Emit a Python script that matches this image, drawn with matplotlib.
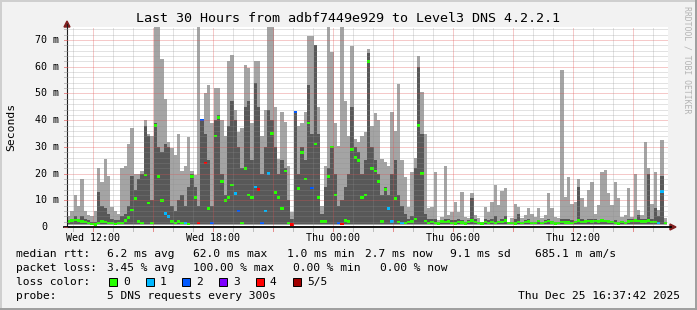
import matplotlib
matplotlib.use("Agg")
import matplotlib.pyplot as plt
import matplotlib.transforms as mtransforms
from matplotlib.patches import Rectangle, Polygon
from matplotlib.lines import Line2D
import numpy as np

# ---------------- data (milliseconds, 10-minute bins) ----------------
start_hour = 10.685          # Wed 10:41 (hours since Wed 00:00)
bin_hours = 1.0 / 6.0        # 10 minutes per bin
smoke_floor = 0.9            # fastest ping, ms

ping_top = [4, 6, 12, 8, 18, 6, 4.5, 4, 6, 22, 17, 25.5, 19, 7.5, 6, 5, 22, 23, 31, 37, 20, 20, 21, 40, 35, 34, 75, 75, 63, 48,
            32, 29.5, 27, 35, 21, 23, 33.8, 21, 19.5, 75, 40, 50, 53, 39, 52, 52, 40, 34, 62, 64.5, 44, 35.5, 37, 60.7, 59.5, 39, 62, 62, 34, 44,
            75, 75, 45, 25.5, 43, 39.5, 23, 5.7, 43, 38, 39, 43, 71.5, 71.5, 68, 45, 8, 23, 75, 65.7, 39, 30.5, 75, 47, 34, 67.6, 33, 32, 34, 35.5,
            66.5, 38, 42.6, 40, 25.5, 24.5, 23, 43, 36, 53.5, 25, 18.8, 7.6, 20.6, 26, 64, 50.7, 35, 7, 7.6, 20.7, 2.6, 3.9, 23, 4.5, 5.7, 9.4, 5.7, 13, 3.9,
            3.3, 12.6, 4.5, 3.3, 2, 7.6, 5.7, 9.4, 15.7, 8.2, 13.5, 14.6, 2, 3.5, 8.8, 7.6, 3.3, 4.5, 7.2, 5, 3.9, 7, 3.3, 4.5, 12.6, 7, 3.9, 3.3, 58.9, 11.4,
            18.8, 8.8, 9.4, 18, 10.7, 7.6, 13.8, 17, 5, 8.2, 20.6, 21.2, 12.6, 8.2, 17, 10.7, 3.9, 4.5, 14.5, 3.9, 20, 6.4, 4.5, 32, 22, 8.8, 20.6, 6.4, 32.4, 3.3]

ping_mid = [2.5, 3, 4, 3, 4, 3, 2.5, 2, 2, 13, 8, 7, 5, 3, 2.5, 2.5, 4, 5, 8, 19, 14, 18, 20, 38, 34, 10, 39, 30, 28, 31,
            30, 8, 6, 10, 12, 8, 15, 20, 15, 8, 40, 35, 25, 8, 40, 42, 20, 12, 38, 47, 40, 30, 22, 45, 47, 25, 54, 45, 20, 30,
            44, 40, 30, 20, 25, 22, 10, 3, 43, 20, 30, 25, 53, 35, 68, 35, 5, 15, 22, 30, 20, 8, 10, 15, 20, 45, 30, 28, 20, 25,
            65, 30, 25, 20, 12, 15, 12, 20, 25, 12, 8, 5, 3, 4, 22, 60, 35, 5, 3, 3, 3, 2, 2.5, 3, 3, 2.5, 2.5, 3, 2.5, 2,
            2.5, 10.7, 3, 2, 1.8, 3, 2.5, 3, 4, 2, 3, 4, 1.8, 2, 3, 5, 2, 2.5, 3, 2, 2, 2.5, 2, 2.5, 3, 2, 2, 2, 3, 3,
            3, 2.5, 2, 15, 3, 2.5, 3, 3, 3, 2.5, 3, 2.5, 2, 2, 2.5, 2, 2, 2, 3, 3, 3, 4.5, 3, 3, 20, 3, 7, 4, 19, 2]

median = [2.0, 2.5, 2.6, 2.5, 2.0, 1.8, 1.5, 1.2, 1.0, 1.5, 2.0, 1.8, 1.5, 1.5, 1.2, 1.5, 1.5, 2.5, 3.5, 6.3, 10.7, 2, 1.5, 19.5, 9, 1.5, 38, 19, 10, 5,
          4, 2, 1.5, 2, 1.5, 1.5, 1.2, 19, 11, 1.5, 40, 24, 7, 1.5, 34, 41, 17, 10, 11, 15.7, 12.6, 6, 1.5, 22, 12, 11, 15, 14, 1.5, 6,
          20, 35, 13, 11, 7, 21, 1.5, 1.0, 43, 14.5, 28, 18, 39, 14.6, 31, 11, 2, 2, 19, 30, 12, 1.5, 1.2, 2.5, 2, 29, 26, 25, 11, 12,
          62, 22, 21, 17, 2, 14, 7, 2, 10.6, 1.8, 1.5, 1.5, 1.8, 2, 3, 38, 20, 2.2, 1.5, 1.8, 1.5, 1.3, 2, 1.8, 2, 1.5, 1.4, 1.8, 1.6, 1.4,
          1.8, 2.5, 1.8, 1.5, 1.3, 1.8, 1.5, 1.8, 1.5, 1.8, 1.8, 2.5, 1.5, 1.5, 1.3, 1.8, 1.5, 1.8, 2, 1.5, 1.5, 2.3, 1.5, 1.8, 2.2, 1.6, 1.4, 1.5, 1.8, 1.6,
          1.6, 1.5, 1.8, 2.5, 1.8, 2, 2.2, 2, 2.2, 2, 2.5, 2.3, 2, 1.8, 1.5, 1.4, 1.8, 1.5, 2, 2.2, 2.5, 2.2, 2, 2, 2.5, 1.8, 1.8, 1.5, 13.2, 1.5]

# bins with packet loss (index -> lost pings out of 5)
loss_bins = [29, 30, 35, 39, 40, 41, 43, 50, 51, 56, 57, 58, 59, 60, 67, 68, 73, 81, 82, 96, 97, 100, 177, 178]
loss_counts = [1, 1, 1, 4, 2, 4, 2, 1, 2, 1, 4, 2, 1, 1, 4, 2, 2, 2, 4, 1, 1, 1, 1, 1]

loss_colors = ["#26ff00", "#00b8ff", "#0059ff", "#7e00ff", "#ff0000", "#a10000"]
loss_labels = ["0", "1", "2", "3", "4", "5/5"]

y_ticks = [0, 10, 20, 30, 40, 50, 60, 70]
x_tick_hours = [12, 18, 24, 30, 36]
x_tick_labels = ["Wed 12:00", "Wed 18:00", "Thu 00:00", "Thu 06:00", "Thu 12:00"]

title = "Last 30 Hours from adbf7449e929 to Level3 DNS 4.2.2.1"
stats_rtt = ["median rtt:", "6.2 ms avg", "62.0 ms max", "1.0 ms min", "2.7 ms now", "9.1 ms sd", "685.1 m am/s"]
stats_loss = ["packet loss:", "3.45 % avg", "100.00 % max", "0.00 % min", "0.00 % now"]
probe_text = ["probe:", "5 DNS requests every 300s"]
timestamp = "Thu Dec 25 16:37:42 2025"

# ---------------- layout helpers ----------------
W, H = 697, 310
def fx(px):
    return px / W
def fy(py):
    return 1 - py / H

MONO = "DejaVu Sans Mono"
LEG_FS = 8.1
fig = plt.figure(figsize=(W / 100, H / 100), dpi=100, facecolor="#f2f2f2")

AX_L, AX_R, AX_T, AX_B = 67, 668, 27, 227
ax = fig.add_axes([fx(AX_L), fy(AX_B), (AX_R - AX_L) / W, (AX_B - AX_T) / H])
ax.set_facecolor("white")
ymax = 74.9
ax.set_ylim(0, ymax)
x_end = start_hour + (AX_R - AX_L) / 20.0
ax.set_xlim(start_hour, x_end)
for s in ax.spines.values():
    s.set_visible(False)
ax.set_xticks([])
ax.set_yticks([])

n = len(median)
edges = start_hour + np.arange(n + 1) * bin_hours
top = np.minimum(np.array(ping_top, float), ymax)
mid = np.array(ping_mid, float)
med = np.array(median, float)

def step_fill(lo, hi, color, z):
    ax.fill_between(edges, np.append(lo, lo[-1]), np.append(hi, hi[-1]), step="post",
                    color=color, linewidth=0, zorder=z, antialiased=False)

floor = np.full(n, smoke_floor)
step_fill(floor, top, "#a4a4a4", 2)
step_fill(floor + 0.3, mid, "#585858", 3)

# median markers coloured by loss
cols = [loss_colors[0]] * n
for i, c in zip(loss_bins, loss_counts):
    cols[i] = loss_colors[c]
mh = 0.95
ax.bar(edges[:-1], [mh] * n, bottom=med - mh / 2, width=bin_hours, align="edge",
       color=cols, linewidth=0, zorder=5, antialiased=False)

# grid (drawn over the graph as rrdtool does)
minor_c = (0.56, 0.56, 0.56, 0.5)
major_c = (0.87, 0.31, 0.31, 0.6)
for v in np.arange(2, ymax, 2):
    c = major_c if v % 10 == 0 else minor_c
    ax.axhline(v, color=c, lw=0.72, linestyle=(0, (1, 1)), zorder=6)
for h in np.arange(11, x_end, 1):
    c = major_c if h % 3 == 0 else minor_c
    ax.axvline(h, color=c, lw=0.72, linestyle=(0, (1, 1)), zorder=6)

# axes lines and arrows
fig.add_artist(Line2D([fx(AX_L), fx(AX_L)], [fy(AX_B), fy(24)], color="#1f1f1f", lw=0.8))
fig.add_artist(Line2D([fx(64), fx(671)], [fy(AX_B), fy(AX_B)], color="black", lw=1.3))
arrow_c = "#801f1f"
fig.add_artist(Polygon([[fx(64), fy(27)], [fx(70), fy(27)], [fx(67), fy(21)]], closed=True,
                       color=arrow_c, transform=fig.transFigure))
fig.add_artist(Polygon([[fx(670), fy(224)], [fx(670), fy(230)], [fx(676), fy(227)]], closed=True,
                       color=arrow_c, transform=fig.transFigure))

# tick marks
tr_y = mtransforms.blended_transform_factory(fig.transFigure, ax.transData)
tr_x = mtransforms.blended_transform_factory(ax.transData, fig.transFigure)
for v in np.arange(0, ymax, 2):
    c = major_c if v % 10 == 0 else minor_c
    fig.add_artist(Line2D([fx(64), fx(67)], [v, v], transform=tr_y, color=c, lw=0.72))
for h in np.arange(11, x_end, 1):
    c = major_c if h % 3 == 0 else minor_c
    fig.add_artist(Line2D([h, h], [fy(228), fy(231)], transform=tr_x, color=c, lw=0.72))

# y labels
for v in y_ticks:
    if v == 0:
        fig.text(fx(41), v, "0", transform=tr_y, fontfamily=MONO, fontsize=7.2, va="center", ha="left")
    else:
        fig.text(fx(35), v, f"{v} m", transform=tr_y, fontfamily=MONO, fontsize=7.2, va="center", ha="left")

# x labels
for h, lab in zip(x_tick_hours, x_tick_labels):
    fig.text(h, fy(238), lab, transform=tr_x, fontfamily=MONO, fontsize=7.2, va="center", ha="center")

# title, axis label, watermark
fig.text(fx(348), fy(19), title, fontfamily=MONO, fontsize=9.6, ha="center", va="center")
fig.text(fx(11), fy(127), "Seconds", fontfamily=MONO, fontsize=8.2, rotation=90, ha="center", va="center")
fig.text(fx(687), fy(60), "RRDTOOL / TOBI OETIKER", fontfamily=MONO, fontsize=5.9, rotation=270,
         ha="center", va="center", color="#b4b4b4")

# legend lines
def row(items, xs, y):
    for t, x in zip(items, xs):
        fig.text(fx(x), fy(y), t, fontfamily=MONO, fontsize=LEG_FS, ha="left", va="center")

row(stats_rtt, [16, 107, 193, 287, 365, 450, 535], 254)
row(stats_loss, [16, 107, 193, 293, 380], 268)
fig.text(fx(16), fy(282), "loss color:", fontfamily=MONO, fontsize=LEG_FS, ha="left", va="center")
box_x = [109, 146, 182, 219, 256, 293]
for bx, c, lab in zip(box_x, loss_colors, loss_labels):
    fig.add_artist(Rectangle((fx(bx), fy(286)), 8 / W, 8 / H, transform=fig.transFigure,
                             facecolor=c, edgecolor="black", lw=0.7))
    fig.text(fx(bx + 14), fy(282), lab, fontfamily=MONO, fontsize=LEG_FS, ha="left", va="center")
row(probe_text, [16, 107], 296)
fig.text(fx(680), fy(296), timestamp, fontfamily=MONO, fontsize=LEG_FS, ha="right", va="center")

# 3D frame
fig.add_artist(Line2D([0, 1], [fy(0.5), fy(0.5)], color="#cfcfcf", lw=1.4))
fig.add_artist(Line2D([fx(0.5), fx(0.5)], [0, 1], color="#cfcfcf", lw=1.4))
fig.add_artist(Line2D([0, 1], [fy(309), fy(309)], color="#9e9e9e", lw=1.4))
fig.add_artist(Line2D([fx(696), fx(696)], [0, 1], color="#9e9e9e", lw=1.4))

fig.savefig("out.png", dpi=100, facecolor=fig.get_facecolor())
